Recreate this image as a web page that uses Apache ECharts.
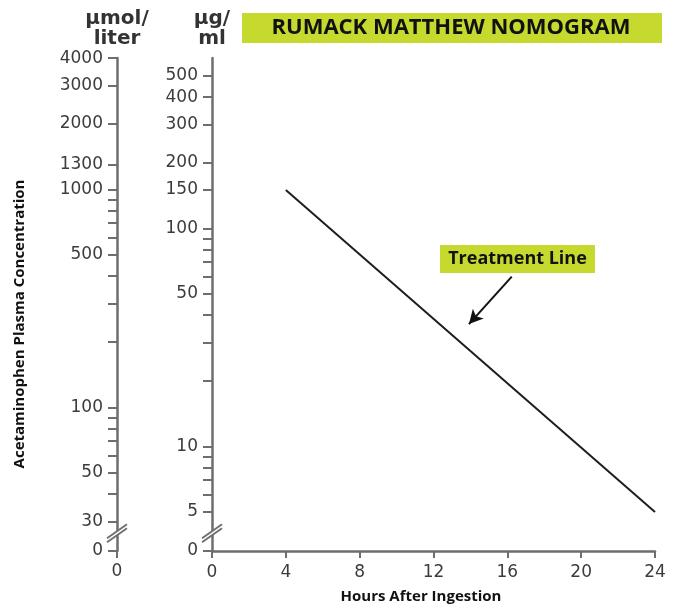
<!DOCTYPE html>
<html><head><meta charset="utf-8">
<script src="https://cdn.jsdelivr.net/npm/echarts@6/dist/echarts.min.js"></script>
<style>html,body{margin:0;padding:0;background:#fff}#c{width:678px;height:608px}</style>
</head><body><div id="c"></div>
<script>
// ---- data ----
const HOURS = [4, 24];
const TREATMENT_UG = [150, 5];
const X_MIN = 0, X_MAX = 24, X_STEP = 4;
const UG_LABELS = [500, 400, 300, 200, 150, 100, 50, 10, 5];
const UG_MINOR = [90, 80, 70, 60, 40, 30, 20, 9, 8, 7, 6];
const UMOL_LABELS = [4000, 3000, 2000, 1300, 1000, 500, 100, 50, 30];
const UMOL_MINOR = [900, 800, 700, 600, 400, 300, 200, 90, 80, 70, 60, 40];
const UG_TO_UMOL = 6.62;
const UG_MAX = 605, UG_MIN = 3.313;          // axis extent (bottom = "0" after break)
const UMOL_MAX = UG_MAX * UG_TO_UMOL, UMOL_MIN = UG_MIN * UG_TO_UMOL;
const BREAK_UG = 4.0;
const ARROW = [[16.24, 60.1], [13.92, 36.4]];
const LABEL_AT = [16.55, 72.4];
const TITLE = 'RUMACK MATTHEW NOMOGRAM';
const LABEL_TEXT = 'Treatment Line';
const Y_NAME = 'Acetaminophen Plasma Concentration';
const X_NAME = 'Hours After Ingestion';
const UMOL_UNIT = 'µmol/\nliter';
const UG_UNIT = 'µg/\nml';

// ---- style ----
const GREEN = '#c6d92f';
const AXIS_C = '#6e6e6e';
const LBL_C = '#3c3c3c';
const LEFT_OFFSET = 95;
const TICK_FONT = 17;

const chart = echarts.init(document.getElementById('c'), null, {renderer: 'canvas'});

function yAxisCfg(min, max, labels, minor, unit, offset) {
  const zero = min * 1.0002;
  return {
    type: 'log', logBase: 10, min: min, max: max, position: 'left', offset: offset,
    name: unit, nameLocation: 'end', nameGap: 9,
    nameTextStyle: {fontFamily: 'DejaVu Sans', fontWeight: 'bold', fontSize: 20, color: '#333', align: 'center', lineHeight: 20},
    axisLine: {show: true, lineStyle: {color: AXIS_C, width: 2.5}},
    axisTick: {show: true, inside: false, length: 9, lineStyle: {color: AXIS_C, width: 2}, customValues: labels.concat(minor).concat([zero])},
    axisLabel: {show: true, margin: 14, fontFamily: 'DejaVu Sans', fontSize: TICK_FONT, color: LBL_C,
      customValues: labels.concat([zero]),
      formatter: v => (v <= min * 1.01 ? '0' : String(Math.round(v)))},
    splitLine: {show: false}, minorTick: {show: false}
  };
}

const option = {
  animation: false,
  backgroundColor: '#fff',
  grid: {left: 212, right: 23, top: 58, bottom: 57, containLabel: false},
  xAxis: {
    type: 'value', min: X_MIN, max: X_MAX, interval: X_STEP,
    axisLine: {show: true, onZero: false, lineStyle: {color: AXIS_C, width: 2.5}},
    axisTick: {show: true, length: 7, lineStyle: {color: AXIS_C, width: 2}},
    axisLabel: {margin: 13, fontFamily: 'DejaVu Sans', fontSize: TICK_FONT, color: LBL_C},
    splitLine: {show: false}
  },
  yAxis: [
    yAxisCfg(UG_MIN, UG_MAX, UG_LABELS, UG_MINOR, UG_UNIT, 0),
    yAxisCfg(UMOL_MIN, UMOL_MAX, UMOL_LABELS, UMOL_MINOR, UMOL_UNIT, LEFT_OFFSET)
  ],
  series: [{
    type: 'line', yAxisIndex: 0, showSymbol: false, symbol: 'none',
    data: HOURS.map((h, i) => [h, TREATMENT_UG[i]]),
    lineStyle: {color: '#1e1e1e', width: 2},
    markLine: {
      silent: true, symbol: ['none', 'arrow'], symbolSize: [11, 14],
      lineStyle: {color: '#111', width: 2, type: 'solid'},
      label: {show: false},
      data: [[{coord: ARROW[0]}, {coord: ARROW[1]}]]
    },
    markPoint: {
      silent: true, symbol: 'rect', symbolSize: [155, 28],
      itemStyle: {color: GREEN},
      label: {show: true, position: 'inside', formatter: LABEL_TEXT, fontFamily: 'Open Sans', fontWeight: 'bold', fontSize: 18, color: '#111'},
      data: [{coord: LABEL_AT}]
    }
  }],
  graphic: [
    {type: 'rect', left: 242, top: 13, shape: {width: 420, height: 30}, style: {fill: GREEN}},
    {type: 'text', x: 451, y: 28, style: {text: TITLE, fontFamily: 'Open Sans', fontWeight: 'bold', fontSize: 22, fill: '#111', align: 'center', verticalAlign: 'middle'}},
    {type: 'text', x: 20, y: 324, rotation: Math.PI / 2, style: {text: Y_NAME, fontFamily: 'Open Sans', fontWeight: 'bold', fontSize: 15, fill: '#111', align: 'center', verticalAlign: 'middle'}},
    {type: 'text', x: 421, y: 597, style: {text: X_NAME, fontFamily: 'Open Sans', fontWeight: 'bold', fontSize: 15, fill: '#111', align: 'center', verticalAlign: 'middle'}}
  ]
};
chart.setOption(option);

// axis-break marks and extras, positioned from the chart's own scales
const xZero = chart.convertToPixel({xAxisIndex: 0}, X_MIN);
const yBreak = chart.convertToPixel({yAxisIndex: 0}, BREAK_UG);
const yZero = chart.convertToPixel({yAxisIndex: 0}, UG_MIN);
const extra = [];
[xZero, xZero - LEFT_OFFSET].forEach(ax => {
  extra.push({type: 'polygon', shape: {points: [[ax - 10, yBreak + 5], [ax + 10, yBreak - 9], [ax + 10, yBreak - 5], [ax - 10, yBreak + 9]]}, style: {fill: '#fff'}, z: 100});
  extra.push({type: 'line', shape: {x1: ax - 10, y1: yBreak + 5, x2: ax + 10, y2: yBreak - 9}, style: {stroke: AXIS_C, lineWidth: 1.8}, z: 101});
  extra.push({type: 'line', shape: {x1: ax - 10, y1: yBreak + 9, x2: ax + 10, y2: yBreak - 5}, style: {stroke: AXIS_C, lineWidth: 1.8}, z: 101});
});
const lx = xZero - LEFT_OFFSET;
extra.push({type: 'line', shape: {x1: lx, y1: yZero, x2: lx, y2: yZero + 7}, style: {stroke: AXIS_C, lineWidth: 2}});
extra.push({type: 'text', x: lx, y: yZero + 21, style: {text: '0', fontFamily: 'DejaVu Sans', fontSize: TICK_FONT, fill: LBL_C, align: 'center', verticalAlign: 'middle'}});
chart.setOption({graphic: option.graphic.concat(extra)});
</script>
</body></html>
